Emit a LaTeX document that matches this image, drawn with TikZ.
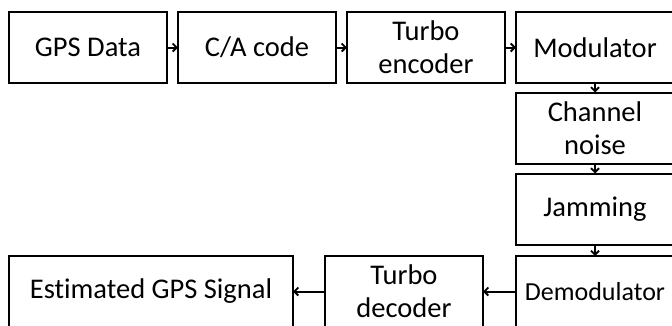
\documentclass[tikz,border=0pt]{standalone}
\usepackage{fontspec}
\setmainfont{Carlito}[RawFeature=-liga]
\usetikzlibrary{arrows.meta}
\begin{document}
\begin{tikzpicture}[x=1pt,y=-1pt,
  blk/.style={draw=black, line width=2pt, fill=white, inner sep=0pt, outer sep=0pt,
    minimum width=158pt, minimum height=71pt, align=center,
    font=\fontsize{28.5}{33}\selectfont},
  conn/.style={line width=2pt, -{Straight Barb[length=4pt,width=8pt,line width=1.8pt]}}]
\useasboundingbox (0,0) rectangle (672,325);
\clip (0,0) rectangle (672,325);
\fill[white] (0,0) rectangle (672,325);
\node[blk] (gps) at (88,47.5) {GPS Data};
\node[blk] (ca) at (257,47.5) {C/A code};
\node[blk] (tenc) at (426,47.5) {Turbo\\encoder};
\node[blk] (mod) at (595,47.5) {Modulator};
\node[blk] (chn) at (595,128) {Channel\\noise};
\node[blk] (jam) at (595,209) {Jamming};
\node[blk, font=\fontsize{26}{31}\selectfont] (demod) at (595,291.5) {Demodulator};
\node[blk] (tdec) at (404,291.5) {Turbo\\decoder};
\node[blk, minimum width=284pt] (est) at (151,291.5) {Estimated GPS Signal};
\draw[conn] (gps) -- (ca);
\draw[conn] (ca) -- (tenc);
\draw[conn] (tenc) -- (mod);
\draw[conn] (mod) -- (chn);
\draw[conn] (chn) -- (jam);
\draw[conn] (jam) -- (demod);
\draw[conn] (demod) -- (tdec);
\draw[conn] (tdec) -- (est);
\end{tikzpicture}
\end{document}
